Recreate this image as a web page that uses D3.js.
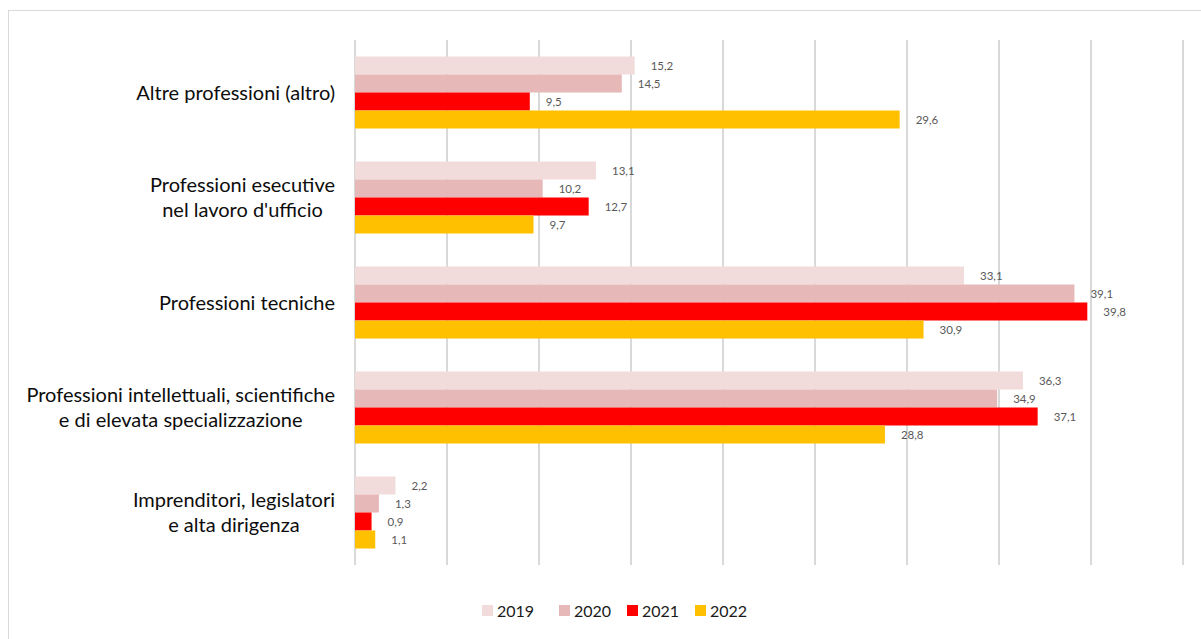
<!DOCTYPE html>
<html>
<head>
<meta charset="utf-8">
<script src="https://cdn.jsdelivr.net/npm/d3@7"></script>
<style>
  html, body { margin: 0; padding: 0; background: #fff; }
  svg { display: block; }
</style>
</head>
<body>
<script>
// Categories (top to bottom) and one value per year
const categories = [
  ["Altre professioni (altro)"],
  ["Professioni esecutive", "nel lavoro d'ufficio"],
  ["Professioni tecniche"],
  ["Professioni intellettuali, scientifiche", "e di elevata specializzazione"],
  ["Imprenditori, legislatori", "e alta dirigenza"]
];
const years = ["2019", "2020", "2021", "2022"];
const values2019 = [15.2, 13.1, 33.1, 36.3, 2.2];
const values2020 = [14.5, 10.2, 39.1, 34.9, 1.3];
const values2021 = [9.5, 12.7, 39.8, 37.1, 0.9];
const values2022 = [29.6, 9.7, 30.9, 28.8, 1.1];
const gridTicks = [0, 5, 10, 15, 20, 25, 30, 35, 40, 45];
const colors = ["#F2DCDB", "#E6B9B8", "#FF0000", "#FFC000"];

const series = [values2019, values2020, values2021, values2022];
const W = 1201, H = 639;
const font = "Lato, 'Open Sans', sans-serif";

const svg = d3.select("body").append("svg").attr("width", W).attr("height", H);

// chart frame
svg.append("rect")
  .attr("x", 8.5).attr("y", 10.5).attr("width", W + 10).attr("height", H + 10)
  .attr("fill", "#fff").attr("stroke", "#D9D9D9").attr("stroke-width", 1);

const plot = { left: 355, right: 1183, top: 40, bottom: 565 };

const x = d3.scaleLinear().domain([0, 45]).range([plot.left, plot.right]);
const y0 = d3.scaleBand().domain(d3.range(categories.length))
  .range([plot.top, plot.bottom]).paddingInner(0.314).paddingOuter(0.157);
const y1 = d3.scaleBand().domain(years).range([0, y0.bandwidth()]);

// vertical gridlines
svg.append("g").selectAll("line").data(gridTicks).join("line")
  .attr("x1", d => x(d)).attr("x2", d => x(d))
  .attr("y1", plot.top).attr("y2", plot.bottom)
  .attr("stroke", "#D9D9D9").attr("stroke-width", 2);

// bars and value labels
const groups = svg.append("g").selectAll("g").data(categories).join("g")
  .attr("transform", (d, i) => `translate(0,${y0(i)})`);

years.forEach((yr, s) => {
  groups.append("rect")
    .attr("x", x(0))
    .attr("y", y1(yr))
    .attr("width", (d, i) => x(series[s][i]) - x(0))
    .attr("height", y1.bandwidth())
    .attr("fill", colors[s]);
  groups.append("text")
    .attr("x", (d, i) => x(series[s][i]) + 16)
    .attr("y", y1(yr) + y1.bandwidth() / 2)
    .attr("dy", "0.35em")
    .attr("font-family", font).attr("font-size", 11.5).attr("fill", "#595959")
    .text((d, i) => d3.format(".1f")(series[s][i]).replace(".", ","));
});

// category labels: lines centered on each other, block right-aligned
const labelRight = 335, lineGap = 25;
categories.forEach((lines, i) => {
  const g = svg.append("g");
  const cy = y0(i) + y0.bandwidth() / 2;
  const texts = lines.map((ln, k) =>
    g.append("text")
      .attr("y", cy + (k - (lines.length - 1) / 2) * lineGap)
      .attr("dy", "0.35em")
      .attr("font-family", font).attr("font-size", 20).attr("fill", "#0d0d0d")
      .attr("text-anchor", "middle")
      .text(ln));
  const maxW = d3.max(texts, t => t.node().getComputedTextLength());
  texts.forEach(t => t.attr("x", labelRight - maxW / 2));
});

// legend
const legendX = [482, 559, 627, 695];
const legend = svg.append("g");
years.forEach((yr, s) => {
  legend.append("rect")
    .attr("x", legendX[s]).attr("y", 605).attr("width", 11).attr("height", 11)
    .attr("fill", colors[s]);
  legend.append("text")
    .attr("x", legendX[s] + 15).attr("y", 611).attr("dy", "0.35em")
    .attr("font-family", font).attr("font-size", 16).attr("fill", "#1a1a1a")
    .text(yr);
});
</script>
</body>
</html>
